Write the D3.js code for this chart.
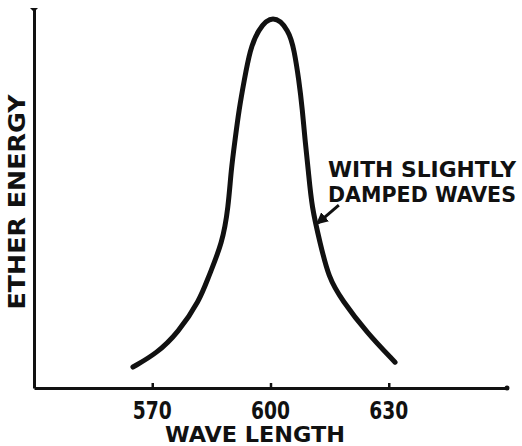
<!DOCTYPE html>
<html>
<head>
<meta charset="utf-8">
<script src="https://cdn.jsdelivr.net/npm/d3@7"></script>
<style>
  body { margin: 0; background: #fff; }
  text { font-family: "DejaVu Sans", sans-serif; font-weight: bold; fill: #111; }
</style>
</head>
<body>
<div id="chart"></div>
<script>
// data
const wavelength = [565.1, 571.2, 576.5, 582.1, 584.2, 587.8, 589.3, 590.0, 591.0, 592.0, 593.35, 594.8, 596.75, 600.6,
                    604.7, 606.0, 607.2, 608.1, 608.75, 609.6, 610.45, 612.6, 614.7, 618.1, 624.5, 631.6];
const energy     = [5.6, 9.3, 14.7, 23.5, 29.6, 38.7, 48.3, 58.2, 66.2, 74.3, 82.3, 90.3, 95.6, 100,
                    95.6, 90.3, 82.3, 74.3, 66.2, 58.2, 48.3, 38.7, 29.6, 23.5, 14.7, 6.9];
const tickValues = [570, 600, 630];
const xLabel = "WAVE LENGTH";
const yLabel = "ETHER ENERGY";
const noteLines = ["WITH SLIGHTLY", "DAMPED WAVES"];
const notePoint = [611.5, 43.8];

const width = 522, height = 446;

let svg = d3.select("#chart").append("svg")
    .attr("width", width)
    .attr("height", height);

// scales
let x = d3.scaleLinear().domain([540, 660]).range([34, 507]);
let y = d3.scaleLinear().domain([0, 101.5]).range([388, 8]);

// x axis, ticks point up
let xAxis = svg.append("g")
    .attr("transform", "translate(0," + y(0) + ")")
    .call(d3.axisBottom(x).tickValues(tickValues).tickSize(-5).tickSizeOuter(0).tickFormat(""));
xAxis.select(".domain").attr("stroke", "#111").attr("stroke-width", 3);
xAxis.selectAll(".tick line").attr("stroke", "#111").attr("stroke-width", 2.5);

// tick labels
svg.selectAll(".xlab")
    .data(tickValues).enter().append("text")
    .attr("class", "xlab")
    .attr("x", d => x(d))
    .attr("y", 419)
    .attr("text-anchor", "middle")
    .attr("font-size", 24)
    .attr("textLength", 39)
    .attr("lengthAdjust", "spacingAndGlyphs")
    .text(d => d);

// rounded end of the x axis
svg.append("circle")
    .attr("cx", x(660)).attr("cy", y(0)).attr("r", 2.5).attr("fill", "#111");

// y axis, no ticks
let yAxis = svg.append("g")
    .attr("transform", "translate(" + x(540) + ",0)")
    .call(d3.axisLeft(y).tickValues([]).tickSizeOuter(0));
yAxis.select(".domain").attr("stroke", "#111").attr("stroke-width", 3);
// small flare at top of y axis
svg.append("path")
    .attr("d", d3.line()([[x(540) - 4, y(101.5)], [x(540) + 4, y(101.5)], [x(540), y(101.5) + 4]]))
    .attr("fill", "#111");

// axis titles
svg.append("text")
    .attr("x", 255).attr("y", 442)
    .attr("text-anchor", "middle")
    .attr("font-size", 22)
    .attr("textLength", 180)
    .attr("lengthAdjust", "spacingAndGlyphs")
    .text(xLabel);

svg.append("text")
    .attr("transform", "translate(25,202) rotate(-90)")
    .attr("text-anchor", "middle")
    .attr("font-size", 23)
    .attr("textLength", 215)
    .attr("lengthAdjust", "spacingAndGlyphs")
    .text(yLabel);

// the curve, smoothed through the read points
let pts = wavelength.map((w, i) => [w, energy[i]]);
let line = d3.line()
    .x(d => x(d[0]))
    .y(d => y(d[1]))
    .curve(d3.curveBasis);
svg.append("path")
    .datum(pts)
    .attr("d", line)
    .attr("fill", "none")
    .attr("stroke", "#111")
    .attr("stroke-width", 5)
    .attr("stroke-linecap", "round");

// annotation
svg.selectAll(".note")
    .data(noteLines).enter().append("text")
    .attr("class", "note")
    .attr("x", 328)
    .attr("y", (d, i) => 177 + i * 25)
    .attr("font-size", 21)
    .attr("textLength", 188)
    .attr("lengthAdjust", "spacingAndGlyphs")
    .text(d => d);

svg.append("defs").append("marker")
    .attr("id", "arrow")
    .attr("viewBox", "0 0 10 10")
    .attr("refX", 8).attr("refY", 5)
    .attr("markerWidth", 4).attr("markerHeight", 4)
    .attr("orient", "auto")
    .append("path")
    .attr("d", "M0,0 L10,5 L0,10 z")
    .attr("fill", "#111");

let tx = x(notePoint[0]), ty = y(notePoint[1]);
svg.append("line")
    .attr("x1", tx + 23).attr("y1", ty - 19)
    .attr("x2", tx + 2).attr("y2", ty - 1)
    .attr("stroke", "#111")
    .attr("stroke-width", 3)
    .attr("marker-end", "url(#arrow)");
</script>
</body>
</html>
